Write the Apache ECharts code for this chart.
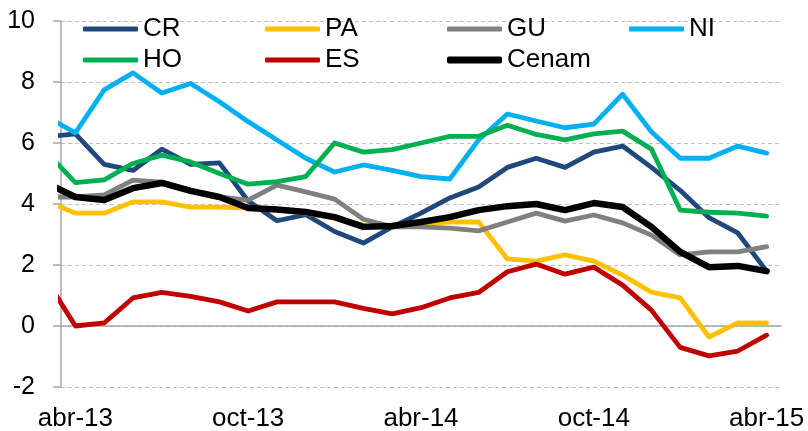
<!DOCTYPE html>
<html>
<head>
<meta charset="utf-8">
<script src="https://cdn.jsdelivr.net/npm/echarts@6/dist/echarts.min.js"></script>
<style>
  html, body { margin: 0; padding: 0; background: #fff; }
  #main { width: 808px; height: 431px; }
</style>
</head>
<body>
<div id="main"></div>
<script>
// months: mar-13 is only the lead-in that the plot cuts at its left edge
const months = ['mar-13', 'abr-13', 'may-13', 'jun-13', 'jul-13', 'ago-13', 'sep-13', 'oct-13', 'nov-13', 'dic-13',
  'ene-14', 'feb-14', 'mar-14', 'abr-14', 'may-14', 'jun-14', 'jul-14', 'ago-14', 'sep-14', 'oct-14',
  'nov-14', 'dic-14', 'ene-15', 'feb-15', 'mar-15', 'abr-15'];

const cr    = [6.2, 6.3, 5.3, 5.1, 5.8, 5.3, 5.35, 4.1, 3.45, 3.65, 3.1, 2.72, 3.25, 3.7, 4.2, 4.56, 5.2, 5.5, 5.2, 5.7, 5.9, 5.2, 4.45, 3.55, 3.05, 1.8];
const pa    = [4.1, 3.7, 3.7, 4.07, 4.07, 3.9, 3.9, 3.87, 3.8, 3.7, 3.54, 3.31, 3.31, 3.37, 3.41, 3.41, 2.2, 2.13, 2.33, 2.13, 1.67, 1.11, 0.92, -0.36, 0.1, 0.1];
const gu    = [4.23, 4.23, 4.3, 4.78, 4.72, 4.46, 4.23, 4.13, 4.62, 4.4, 4.16, 3.5, 3.25, 3.25, 3.21, 3.12, 3.41, 3.7, 3.44, 3.64, 3.38, 2.98, 2.33, 2.43, 2.43, 2.6];
const ni    = [6.87, 6.33, 7.74, 8.3, 7.64, 7.95, 7.35, 6.7, 6.1, 5.5, 5.05, 5.28, 5.1, 4.9, 4.82, 6.1, 6.95, 6.72, 6.5, 6.62, 7.6, 6.37, 5.5, 5.5, 5.9, 5.67];
const ho    = [5.7, 4.7, 4.79, 5.33, 5.6, 5.38, 5.0, 4.65, 4.73, 4.9, 6.0, 5.7, 5.78, 6.0, 6.22, 6.22, 6.58, 6.28, 6.1, 6.3, 6.39, 5.8, 3.8, 3.73, 3.7, 3.6];
const es    = [1.5, 0, 0.1, 0.92, 1.1, 0.97, 0.79, 0.49, 0.79, 0.79, 0.79, 0.58, 0.4, 0.6, 0.92, 1.1, 1.78, 2.03, 1.7, 1.93, 1.34, 0.52, -0.7, -0.98, -0.82, -0.3];
const cenam = [4.69, 4.23, 4.13, 4.52, 4.69, 4.43, 4.23, 3.87, 3.82, 3.74, 3.57, 3.25, 3.28, 3.41, 3.57, 3.8, 3.93, 4.0, 3.8, 4.03, 3.9, 3.25, 2.43, 1.93, 1.97, 1.8];

const yTicks = { min: -2, max: 10, step: 2 };

const names  = ['CR', 'PA', 'GU', 'NI', 'HO', 'ES', 'Cenam'];
const values = [cr, pa, gu, ni, ho, es, cenam];
const colors = ['#1F497D', '#FFC000', '#808080', '#00B0F0', '#00B050', '#C00000', '#000000'];

const font = 'Liberation Sans, Arial, sans-serif';

let chart = echarts.init(document.getElementById('main'), null, { renderer: 'canvas' });

// legend: 4 columns x 2 rows, one component per entry so each keeps its own line weight
const colX = [83, 265, 447, 629];
const rowY = [16, 47];
const legends = names.map((n, k) => ({
  data: [n],
  left: colX[k % 4],
  top: rowY[Math.floor(k / 4)],
  icon: 'roundRect',
  itemWidth: 55,
  itemHeight: n === 'Cenam' ? 7 : 5,
  padding: 0,
  selectedMode: false,
  textStyle: { fontFamily: font, fontSize: 26, lineHeight: 26, color: '#000' }
}));

let options = {
  animation: false,
  backgroundColor: '#fff',
  legend: legends,
  grid: { left: 61, right: 27, top: 21, bottom: 44, containLabel: false, outerBoundsMode: 'none' },
  xAxis: [
    {
      // axis line and ticks sit on zero
      type: 'category',
      data: months.slice(1),
      boundaryGap: true,
      axisLine: { onZero: true, onZeroAxisIndex: 0, lineStyle: { color: '#a6a6a6', width: 1.5 } },
      axisTick: { interval: 5, length: 7, lineStyle: { color: '#a6a6a6', width: 1.5 } },
      axisLabel: { show: false },
      splitLine: { show: false }
    },
    {
      // hidden index axis carrying the lines, one unit per month
      type: 'value',
      min: -0.5,
      max: months.length - 1.5,
      show: false
    },
    {
      // month labels at the bottom of the plot
      type: 'category',
      position: 'bottom',
      data: months.slice(1),
      boundaryGap: true,
      axisLine: { show: false, onZero: false },
      axisTick: { show: false },
      axisLabel: { interval: 5, margin: 22, fontFamily: font, fontSize: 26, lineHeight: 20, color: '#000' },
      splitLine: { show: false }
    }
  ],
  yAxis: {
    type: 'value',
    min: yTicks.min,
    max: yTicks.max,
    interval: yTicks.step,
    axisLine: { show: true, onZero: false, lineStyle: { color: '#a6a6a6', width: 1.5 } },
    axisTick: { show: true, length: 8, lineStyle: { color: '#a6a6a6', width: 1.5 } },
    axisLabel: { margin: 26, fontFamily: font, fontSize: 25, color: '#000' },
    splitLine: { show: true, lineStyle: { color: '#bfbfbf', type: [4, 3], width: 1 } }
  },
  series: names.map((n, k) => ({
    name: n,
    type: 'line',
    xAxisIndex: 1,
    clip: true,
    symbol: 'none',
    color: colors[k],
    lineStyle: { color: colors[k], width: n === 'Cenam' ? 6.5 : 4.8, cap: 'round', join: 'round' },
    data: values[k].map((v, i) => [i - 1, v]),
    z: 2 + k
  }))
};

chart.setOption(options);
</script>
</body>
</html>
